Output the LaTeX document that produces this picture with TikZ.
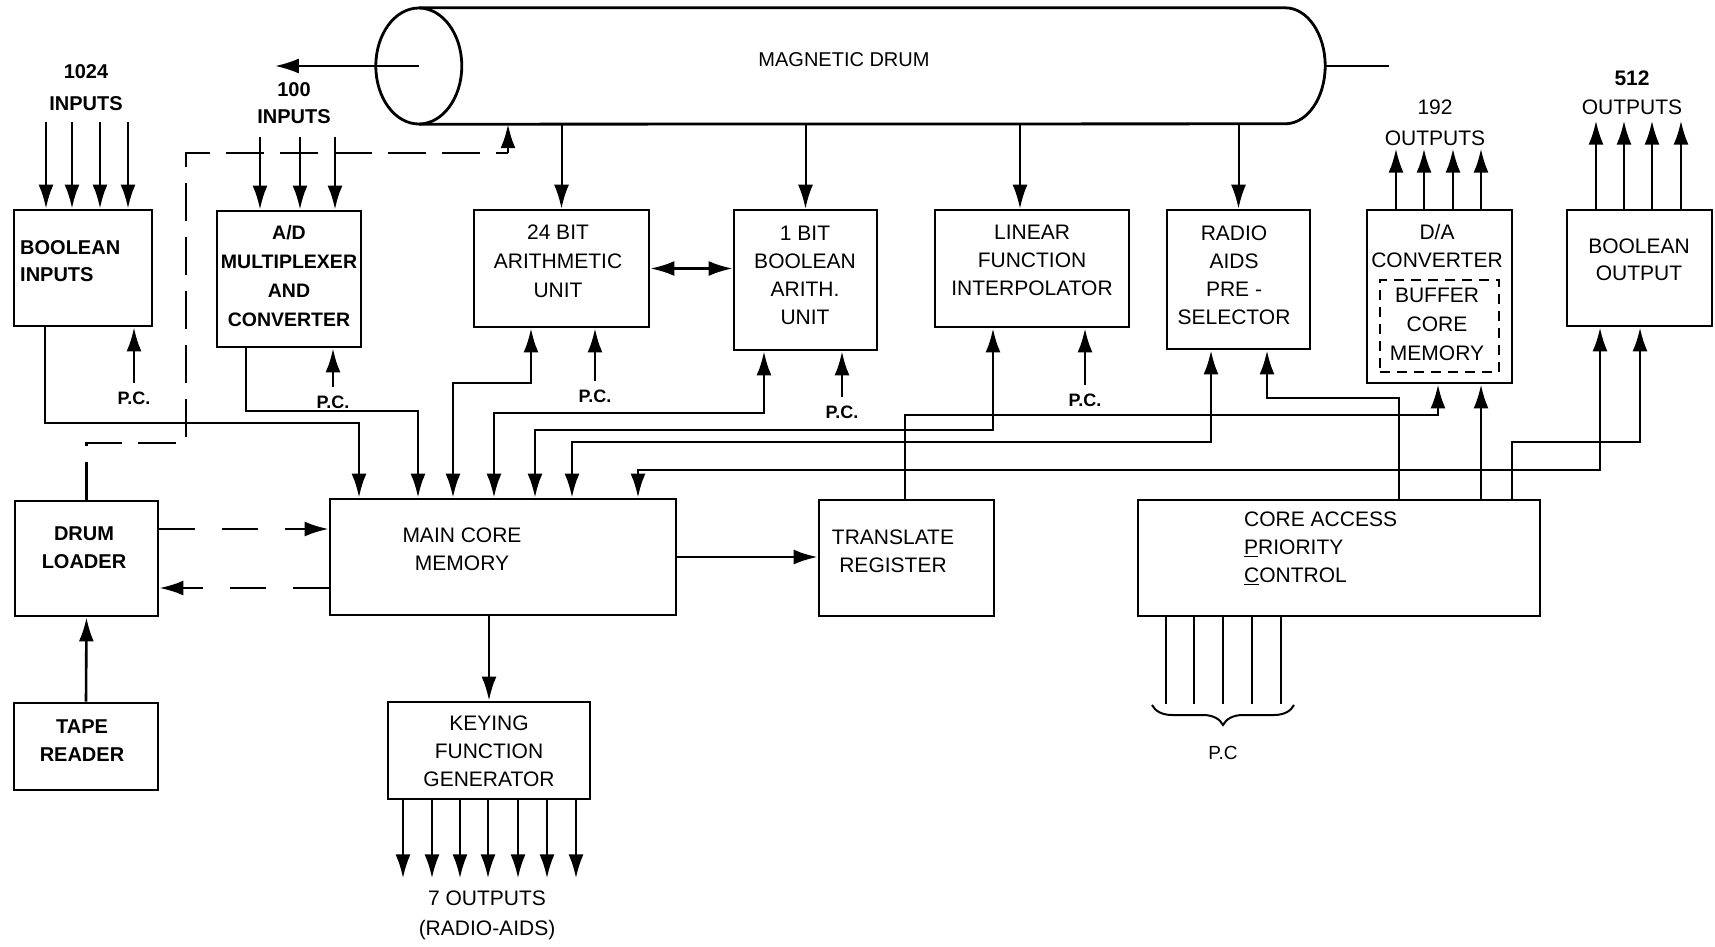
\documentclass[tikz,border=0pt]{standalone}
\usepackage{fontspec}
\setmainfont{Liberation Sans}
\usetikzlibrary{arrows.meta,decorations.pathreplacing}
\tikzset{
  box/.style={draw,line width=2.8pt,inner sep=0pt},
  txt/.style={inner sep=0pt,align=center,font=\fontsize{21}{28}\selectfont},
  heavytxt/.style={txt,font=\bfseries\fontsize{20}{28}\selectfont},
  pc/.style={inner sep=0pt,outer ysep=9pt,font=\bfseries\fontsize{18}{20}\selectfont},
  bus/.style={line width=2.6pt},
  feed/.style={bus,-{Latex[length=24pt,width=15pt]}},
  twoway/.style={bus,{Latex[length=24pt,width=15pt]}-{Latex[length=24pt,width=15pt]}},
  dropline/.style={line width=2pt,-{Latex[length=24pt,width=15pt]}},
  loaderlink/.style={feed,dash pattern=on 36pt off 27pt}
}

\begin{document}
\begin{tikzpicture}[x=1pt,y=-1pt]
  \useasboundingbox (0,0) rectangle (1715,946);

  % magnetic drum
  \node[inner sep=0pt,minimum width=866pt,minimum height=116pt] (drum) at (852,66) {};
  \node[txt,font=\fontsize{20}{22}\selectfont] (drumT) at (844,60) {MAGNETIC DRUM};
  \draw[box] (drum.north west) -- (drum.north east)
    arc[start angle=-90,end angle=90,x radius=40,y radius=58] -- (drum.south west);
  \draw[box] (drum.west) ellipse[x radius=43,y radius=58];
  \draw[box] ([xshift=40pt]drum.east) -- ++(64,0) coordinate (axle);
  \draw[feed] (drum.west) -- ++(-144,0) coordinate (drumout);

  % units
  \node[box,minimum width=138pt,minimum height=116pt] (bi) at (83,268) {};
  \node[box,minimum width=144pt,minimum height=136pt] (ad) at (289,279) {};
  \node[box,minimum width=175pt,minimum height=117pt] (arith) at (561.5,268.5) {};
  \node[box,minimum width=143pt,minimum height=140pt] (bbool) at (805.5,280) {};
  \node[box,minimum width=194pt,minimum height=117pt] (lin) at (1032,268.5) {};
  \node[box,minimum width=143pt,minimum height=139pt] (radio) at (1238.5,279.5) {};
  \node[box,minimum width=145pt,minimum height=173pt] (da) at (1439.5,296.5) {};
  \node[box,line width=2pt,dash pattern=on 10pt off 7pt,
    minimum width=119pt,minimum height=92pt] (buf) at (1439.5,326) {};
  \node[box,minimum width=145pt,minimum height=116pt] (bout) at (1639.5,268) {};
  \node[box,minimum width=346pt,minimum height=116pt] (mcm) at (503,557) {};
  \node[box,minimum width=143pt,minimum height=115pt] (dl) at (86.5,558.5) {};
  \node[box,minimum width=144pt,minimum height=87pt] (tape) at (86,746.5) {};
  \node[box,minimum width=202pt,minimum height=97pt] (kfg) at (489,750.5) {};
  \node[box,minimum width=175pt,minimum height=116pt] (treg) at (906.5,558) {};
  \node[box,minimum width=402pt,minimum height=116pt] (capc) at (1339,558) {};

  % texts
  \node[heavytxt,font=\bfseries\fontsize{20}{32}\selectfont] (in1024) at (86,88) {1024\\INPUTS};
  \node[heavytxt,font=\bfseries\fontsize{20}{27}\selectfont] (in100) at (294,103.5) {100\\INPUTS};
  \node[heavytxt,font=\bfseries\fontsize{20}{27}\selectfont,align=left,anchor=west] (biT) at (20,261.5) {BOOLEAN\\INPUTS};
  \node[heavytxt,font=\bfseries\fontsize{19.5}{29}\selectfont] (adT) at (289,276) {A/D\\MULTIPLEXER\\AND\\CONVERTER};
  \node[txt,font=\fontsize{21}{29}\selectfont] (arithT) at (558,261) {24 BIT\\ARITHMETIC\\UNIT};
  \node[txt] (bboolT) at (805,275.5) {1 BIT\\BOOLEAN\\ARITH.\\UNIT};
  \node[txt] (linT) at (1032,260) {LINEAR\\FUNCTION\\INTERPOLATOR};
  \node[txt] (radioT) at (1234,275) {RADIO\\AIDS\\PRE -\\SELECTOR};
  \node[txt] (daT) at (1437,246) {D/A\\CONVERTER};
  \node[txt,font=\fontsize{21}{29}\selectfont] (bufT) at (1437,324) {BUFFER\\CORE\\MEMORY};
  \node[txt,font=\fontsize{21}{27}\selectfont] (boutT) at (1639,259.5) {BOOLEAN\\OUTPUT};
  \node[txt,font=\fontsize{21}{31}\selectfont] (out192) at (1435,122.5) {192\\OUTPUTS};
  \node[txt,font=\fontsize{21}{29}\selectfont] (out512) at (1632,92.5) {{\bfseries 512}\\OUTPUTS};
  \node[txt] (mcmT) at (462,549) {MAIN CORE\\MEMORY};
  \node[heavytxt] (dlT) at (84,548) {DRUM\\LOADER};
  \node[heavytxt] (tapeT) at (82,741) {TAPE\\READER};
  \node[txt] (kfgT) at (489,751.5) {KEYING\\FUNCTION\\GENERATOR};
  \node[txt] (tregT) at (893,551) {TRANSLATE\\REGISTER};
  \node[txt,align=left,anchor=west] (capcT) at (1244,548.5)
    {CORE ACCESS\\\underline{P}RIORITY\\\underline{C}ONTROL};
  \node[txt,font=\fontsize{21}{30}\selectfont] (out7) at (487,915) {7 OUTPUTS\\(RADIO-AIDS)};

  % drum to units
  \draw[dropline] (arith.north |- drum.south) -- (arith.north);
  \draw[dropline] (bbool.north |- drum.south) -- (bbool.north);
  \draw[dropline] (1020,0 |- drum.south) -- (1020,0 |- lin.north);
  \draw[dropline] (radio.north |- drum.south) -- (radio.north);

  % inputs and outputs
  \foreach \x in {46,72,100,128}
    \draw[feed] (\x,0 |- bi.north) ++(0,-87) -- (\x,0 |- bi.north);
  \foreach \x in {260,300,335}
    \draw[feed] (\x,0 |- ad.north) ++(0,-73) -- (\x,0 |- ad.north);
  \foreach \x in {1396,1424,1453,1481}
    \draw[feed] (\x,0 |- da.north) -- ++(0,-60);
  \foreach \x in {1596,1624,1652,1681}
    \draw[feed] (\x,0 |- bout.north) -- ++(0,-88);
  \foreach \x in {403,432,460,488,518,547,576}
    \draw[feed] (\x,0 |- kfg.south) -- ++(0,78);

  % program control
  \node[pc] (pc1) at (134,398) {P.C.};
  \node[pc] (pc2) at (333,402) {P.C.};
  \node[pc] (pc3) at (595,396) {P.C.};
  \node[pc] (pc4) at (842,412) {P.C.};
  \node[pc] (pc5) at (1085,400) {P.C.};
  \draw[feed] (pc1.north) -- (pc1.north |- bi.south);
  \draw[feed] (pc2.north) -- (pc2.north |- ad.south);
  \draw[feed] (pc3.north) -- (pc3.north |- arith.south);
  \draw[feed] (pc4.north) -- (pc4.north |- bbool.south);
  \draw[feed] (pc5.north) -- (pc5.north |- lin.south);

  % buses to main core memory
  \draw[feed] (45,0 |- bi.south) |- (359,423) -- (359,0 |- mcm.north);
  \draw[feed] (246,0 |- ad.south) |- (418,411) -- (418,0 |- mcm.north);
  \draw[twoway] (453,0 |- mcm.north) |- (531,383) -- (531,0 |- arith.south);
  \draw[twoway] (494,0 |- mcm.north) |- (764,413) -- (764,0 |- bbool.south);
  \draw[twoway] (535,0 |- mcm.north) |- (993,430) -- (993,0 |- lin.south);
  \draw[twoway] (572,0 |- mcm.north) |- (1211,442) -- (1211,0 |- radio.south);
  \draw[twoway] (638,0 |- mcm.north) |- (1600,470) -- (1600,0 |- bout.south);
  \draw[twoway] (arith.east) -- (arith.east -| bbool.west);
  \draw[feed] (905,0 |- treg.north) |- (1438,415) -- (1438,0 |- da.south);

  % priority control
  \draw[feed] (1399,0 |- capc.north) |- (1267,398) -- (1267,0 |- radio.south);
  \draw[feed] (1481,0 |- capc.north) -- (1481,0 |- da.south);
  \draw[feed] (1512,0 |- capc.north) |- (1640,442) -- (1640,0 |- bout.south);
  \foreach \x in {1166,1194,1223,1252,1281}
    \draw[line width=2pt] (\x,0 |- capc.south) -- ++(0,87);
  \coordinate (braceL) at (1152,705);
  \coordinate (braceR) at (1294,705);
  \draw[line width=2pt,decorate,decoration={brace,mirror,amplitude=20pt}] (braceL) -- (braceR);
  \node[pc,outer ysep=0pt,font=\fontsize{19}{20}\selectfont] (pc6) at (1223,753) {P.C};

  % loader paths
  \draw[bus,dash pattern=on 38pt off 16pt] (dl.north) |- (186,443) |- (508,153) coordinate (loopend);
  \draw[feed] (loopend) -- (loopend |- drum.south);
  \draw[loaderlink] (dl.east |- 0,529) -- (mcm.west |- 0,529);
  \draw[loaderlink] (mcm.west |- 0,588) -- (dl.east |- 0,588);
  \draw[feed] (tape.north) -- (dl.south);
  \draw[feed] (kfg.north |- mcm.south) -- (kfg.north);
  \draw[feed] (mcm.east) -- (mcm.east -| treg.west);
\end{tikzpicture}
\end{document}
